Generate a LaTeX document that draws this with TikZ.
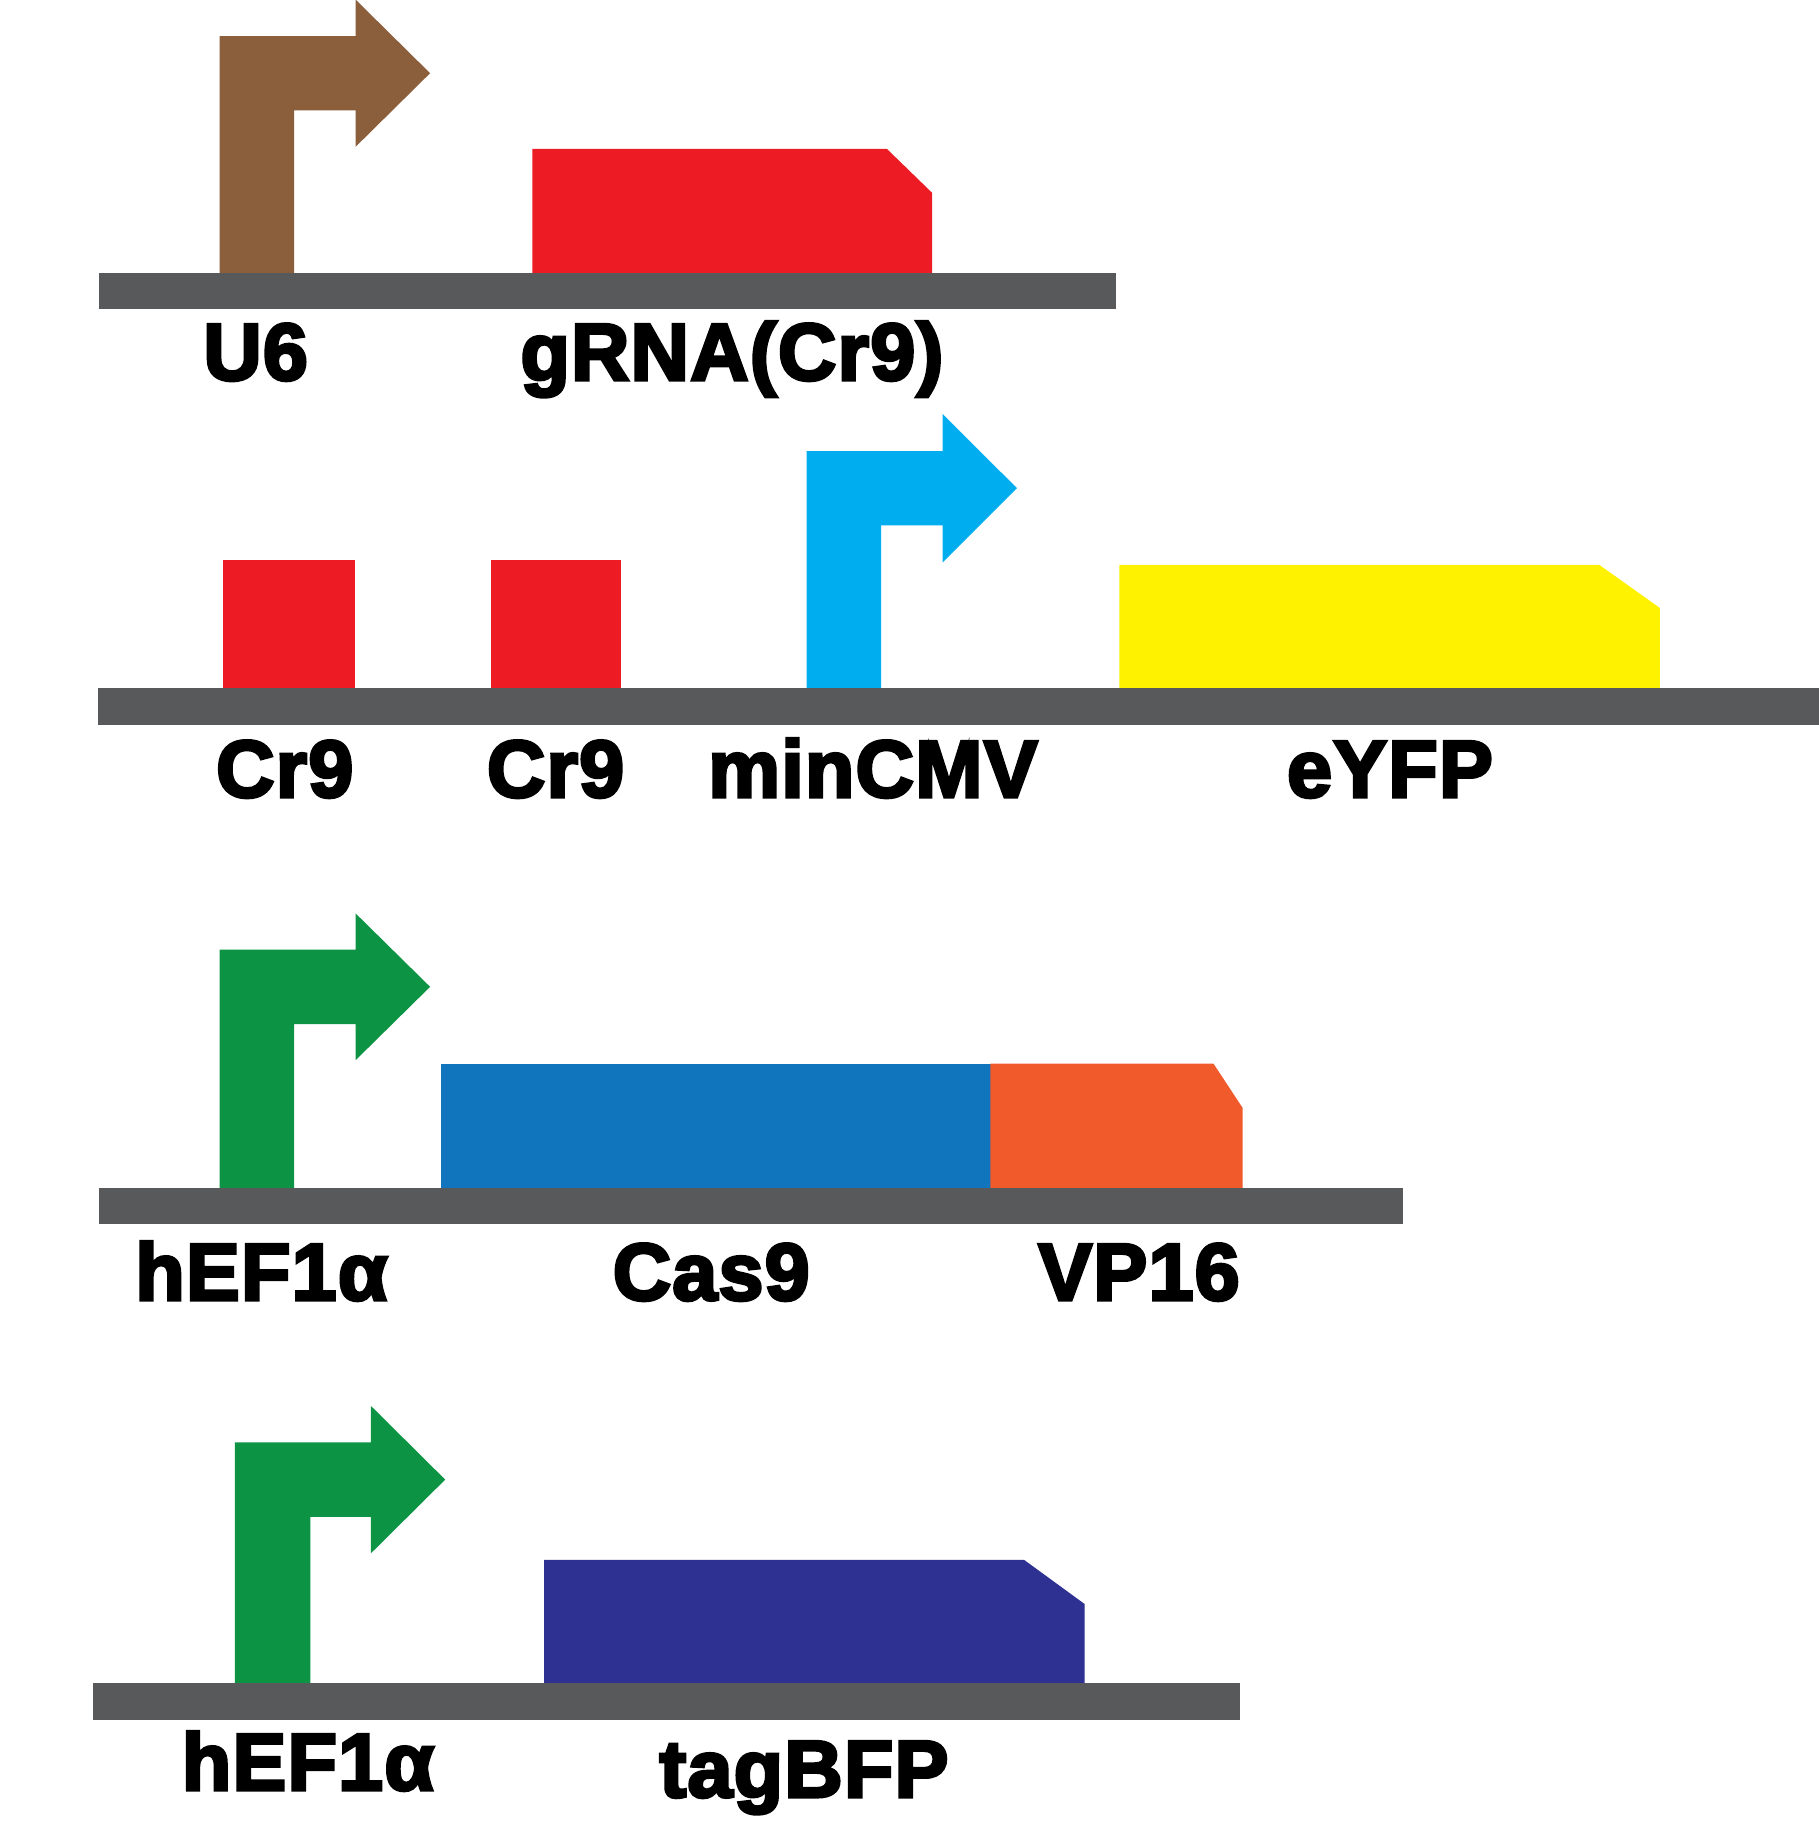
\documentclass[tikz,border=0pt]{standalone}
\usepackage{fontspec}
\newfontfamily\labfont{Liberation Sans Bold}[FakeBold=3.8,LetterSpace=1.5]
\definecolor{bargray}{HTML}{58595B}
\definecolor{u6brown}{HTML}{8B5E3C}
\definecolor{crred}{HTML}{ED1C24}
\definecolor{cmvblue}{HTML}{00AEEF}
\definecolor{yfpyellow}{HTML}{FFF200}
\definecolor{efgreen}{HTML}{0C9444}
\definecolor{casblue}{HTML}{1075BC}
\definecolor{vporange}{HTML}{F15A2B}
\definecolor{bfpnavy}{HTML}{2E3192}
\tikzset{
  lab/.style={font=\labfont\fontsize{23}{27}\selectfont, anchor=base, inner sep=0pt},
  bb/.style={fill=bargray},
}
\newcommand\mypromoter[9]{% color, L, R, T, B, H, X, Y0, Hhalf
  \fill[#1] (#2,#8) -- (#2,#4) -- (#6,#4) -- (#6,{(#4+#5)/2-#9}) -- (#7,{(#4+#5)/2}) -- (#6,{(#4+#5)/2+#9}) -- (#6,#5) -- (#3,#5) -- (#3,#8) -- cycle;}
\begin{document}
\begin{tikzpicture}[x=0.01cm,y=-0.01cm]
\useasboundingbox (0,0) rectangle (1819,1823);
% ---------- Row 1
\mypromoter{u6brown}{219.7}{294.1}{36}{110.4}{355.7}{430.1}{273.5}{73.5}
\fill[crred] (532.3,273.5) -- (532.3,148.8) -- (886.8,148.8) -- (932.2,192.9) -- (932.2,273.5) -- cycle;
\fill[bb] (98.8,273.1) rectangle (1115.8,309.2);
\node[lab] (u6) at (255.7,380) {U6};
\node[lab] (grna) at (732,380) {gRNA(Cr9)};
% ---------- Row 2
\fill[crred] (223.2,560.2) rectangle (354.5,688.5);
\fill[crred] (490.5,560.2) rectangle (620.7,688.5);
\mypromoter{cmvblue}{806.6}{881.0}{451.0}{525.4}{942.6}{1017.0}{688.5}{74.2}
\fill[yfpyellow] (1119.3,688.5) -- (1119.3,564.9) -- (1599.3,564.9) -- (1659.8,607.9) -- (1659.8,688.5) -- cycle;
\fill[bb] (97.6,688.1) rectangle (1819,725.3);
\node[lab] (cr9a) at (284.8,797) {Cr9};
\node[lab] (cr9b) at (555.6,797) {Cr9};
\node[lab] (mincmv) at (873,797) {minCMV};
\node[lab] (eyfp) at (1390,797) {eYFP};
% ---------- Row 3
\mypromoter{efgreen}{219.7}{294.1}{949.6}{1024.0}{355.7}{430.1}{1188.3}{73.3}
\fill[casblue] (440.5,1063.5) rectangle (990.8,1188.3);
\fill[vporange] (990.3,1188.3) -- (990.3,1063.5) -- (1213.4,1063.5) -- (1242.5,1107.7) -- (1242.5,1188.3) -- cycle;
\fill[bb] (98.8,1187.9) rectangle (1402.9,1223.9);
\node[lab] (hef1) at (261.5,1300) {hEF1α};
\node[lab] (cas9) at (711.3,1300) {Cas9};
\node[lab] (vp16) at (1139,1300) {VP16};
% ---------- Row 4
\mypromoter{efgreen}{234.8}{310.3}{1442.4}{1516.8}{370.8}{445.2}{1683.4}{73.8}
\fill[bfpnavy] (544.0,1683.4) -- (544.0,1559.8) -- (1024.0,1559.8) -- (1084.5,1603.9) -- (1084.5,1683.4) -- cycle;
\fill[bb] (93.0,1683.0) rectangle (1240.2,1720.2);
\node[lab] (hef2) at (308,1790) {hEF1α};
\node[lab] (tagbfp) at (804,1797) {tagBFP};
\end{tikzpicture}
\end{document}
